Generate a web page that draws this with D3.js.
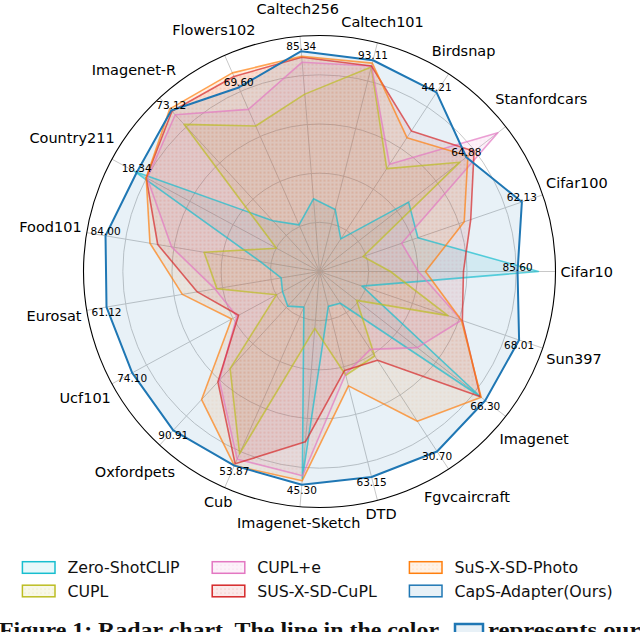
<!DOCTYPE html>
<html><head><meta charset="utf-8">
<script src="https://cdn.jsdelivr.net/npm/d3@7"></script>
<style>body{margin:0;background:#fff}svg{display:block}</style>
</head><body><svg id="c" width="640" height="632"></svg>
<script>
// Axes, counter-clockwise starting at 3 o'clock
const categories = ["Cifar10","Cifar100","Stanfordcars","Birdsnap","Caltech101","Caltech256","Flowers102","Imagenet-R","Country211","Food101","Eurosat","Ucf101","Oxfordpets","Cub","Imagenet-Sketch","DTD","Fgvcaircraft","Imagenet","Sun397"];
const seriesNames = ["Zero-ShotCLIP","CUPL","CUPL+e","SUS-X-SD-CuPL","SuS-X-SD-Photo","CapS-Adapter(Ours)"];
const seriesColors = ["#17becf","#bcbd22","#e377c2","#d62728","#ff7f0e","#1f77b4"];
// normalised scores per axis (1.0 = outermost grid ring)
const zeroShotClip = [1.113,0.529,0.574,0.198,0.325,0.371,0.259,0.351,1.068,0.305,0.198,0.214,0.239,0.198,1.057,0.183,0.193,1.037,0.229];
const cupl         = [0.361,0.234,0.905,0.625,1.073,0.905,0.808,1.017,0.249,0.595,0.529,0.249,0.671,1.012,0.290,0.544,0.513,0.239,0.691];
const cuplE        = [0.503,0.442,1.149,0.651,1.078,1.068,0.900,1.083,0.996,0.763,0.539,0.478,0.752,1.042,1.042,0.539,0.473,0.630,0.763];
const susXSdCupl   = [0.732,0.813,0.996,0.854,1.078,1.093,1.083,1.108,1.002,0.834,0.630,0.468,0.763,1.068,0.869,0.519,0.539,1.037,0.768];
const susXSdPhoto  = [0.539,0.778,0.956,0.813,1.093,1.098,1.103,1.124,1.002,0.874,0.707,0.508,0.885,1.078,1.068,0.600,0.910,1.042,0.763];
const capsAdapter  = [1.007,1.088,0.946,1.088,1.108,1.124,1.022,1.113,1.057,1.103,1.098,1.083,1.098,1.078,1.088,1.078,1.093,1.068,1.073];
// accuracy labels of CapS-Adapter
const capsLabels = ["85.60","62.13","64.88","44.21","93.11","85.34","69.60","73.12","18.34","84.00","61.12","74.10","90.91","53.87","45.30","63.15","30.70","66.30","68.01"];
const ringTicks = [0.25,0.5,0.75,1.0];

const seriesData = [zeroShotClip,cupl,cuplE,susXSdCupl,susXSdPhoto,capsAdapter];

const svg = d3.select("#c");
const cx = 319.5, cy = 271.5, R = 236;
const r = d3.scaleLinear().domain([0,1.2]).range([0,R]);
const n = categories.length;
const step = 2*Math.PI/n;
const theta = i => i*step;
const px = (i,v) => cx + r(v)*Math.cos(theta(i));
const py = (i,v) => cy - r(v)*Math.sin(theta(i));

const defs = svg.append("defs");
seriesColors.forEach((c,k)=>{
  const p = defs.append("pattern").attr("id","dots"+k).attr("patternUnits","userSpaceOnUse")
    .attr("width",4).attr("height",4);
  p.append("circle").attr("cx",1).attr("cy",1).attr("r",0.5).attr("fill",c).attr("fill-opacity",0.35);
});

const g = svg.append("g").attr("transform",`translate(${cx},${cy})`);
// grid
g.selectAll("circle.ring").data(ringTicks).join("circle").attr("class","ring")
  .attr("r",d=>r(d)).attr("fill","none").attr("stroke","#c8c8c8").attr("stroke-width",1);
g.selectAll("line.spoke").data(categories).join("line").attr("class","spoke")
  .attr("x1",0).attr("y1",0)
  .attr("x2",(d,i)=>R*Math.cos(theta(i))).attr("y2",(d,i)=>-R*Math.sin(theta(i)))
  .attr("stroke","#c8c8c8").attr("stroke-width",1);

const line = d3.lineRadial().angle((d,i)=>Math.PI/2 - theta(i)).radius(d=>r(d)).curve(d3.curveLinearClosed);

seriesData.forEach((vals,k)=>{
  const c = seriesColors[k];
  g.append("path").attr("d",line(vals)).attr("fill",c).attr("fill-opacity",0.1).attr("stroke","none");
  if(k>=1 && k<=4) g.append("path").attr("d",line(vals)).attr("fill",`url(#dots${k})`).attr("stroke","none");
});
seriesData.forEach((vals,k)=>{
  const c = seriesColors[k];
  g.append("path").attr("d",line(vals)).attr("fill","none").attr("stroke",c)
    .attr("stroke-width",k===5?2:1.6).attr("stroke-opacity",k===5?1:0.7).attr("stroke-linejoin","round");
});

// outer spine
g.append("circle").attr("r",R).attr("fill","none").attr("stroke","#000").attr("stroke-width",1.1);

// value labels
svg.selectAll("text.val").data(capsLabels).join("text").attr("class","val")
  .attr("x",(d,i)=>px(i,capsAdapter[i]))
  .attr("y",(d,i)=>py(i,capsAdapter[i]) + (Math.sin(theta(i))< -0.01 ? 5 : -5))
  .attr("text-anchor","middle").attr("dominant-baseline","central")
  .attr("font-family","DejaVu Sans").attr("font-size",10.5).attr("fill","#000").text(d=>d);

// category labels
const catSel = svg.selectAll("text.cat").data(categories).join("text").attr("class","cat")
  .attr("text-anchor","middle").attr("dominant-baseline","central")
  .attr("font-family","DejaVu Sans").attr("font-size",14.5).attr("fill","#000").text(d=>d);
catSel.each(function(d,i){
  const w = this.getComputedTextLength();
  const ux = Math.cos(theta(i)), uy = -Math.sin(theta(i));
  const a = 241;
  let dd = Math.abs(ux)*w/2 + Math.abs(uy)*6;
  if (d === "Caltech256") dd += 13.5; // lifted to clear its neighbour, as in the original
  d3.select(this).attr("x",cx+ux*(a+dd)).attr("y",cy+uy*(a+dd));
});

// legend
const legCols = [22.4, 212.2, 409.4];
const legRows = [567.5, 591];
seriesNames.forEach((name,k)=>{
  const col = Math.floor(k/2), row = k%2;
  const x = legCols[col], y = legRows[row];
  svg.append("rect").attr("x",x).attr("y",y-5.8).attr("width",32.6).attr("height",11.6)
    .attr("fill",seriesColors[k]).attr("fill-opacity",0.1).attr("stroke",seriesColors[k]).attr("stroke-width",1.5);
  if(k>=1 && k<=4) svg.append("rect").attr("x",x).attr("y",y-5.8).attr("width",32.6).attr("height",11.6).attr("fill",`url(#dots${k})`);
  svg.append("text").attr("x",x+45).attr("y",y).attr("dominant-baseline","central")
    .attr("font-family","DejaVu Sans").attr("font-size",15.8).attr("fill","#111").text(name);
});

// caption (cut off by the page bottom, as in the original)
svg.append("text").attr("x",-1).attr("y",637).attr("font-family","Liberation Serif").attr("font-weight","bold")
  .attr("font-size",21).attr("textLength",440).attr("lengthAdjust","spacingAndGlyphs").attr("fill","#111")
  .text("Figure 1: Radar chart. The line in the color");
svg.append("rect").attr("x",455).attr("y",624).attr("width",28).attr("height",14)
  .attr("fill","#1f77b4").attr("fill-opacity",0.1).attr("stroke","#1f77b4").attr("stroke-width",2.5);
svg.append("text").attr("x",488).attr("y",637).attr("font-family","Liberation Serif").attr("font-weight","bold")
  .attr("font-size",21).attr("textLength",162).attr("lengthAdjust","spacingAndGlyphs").attr("fill","#111")
  .text("represents ours");
</script></body></html>
